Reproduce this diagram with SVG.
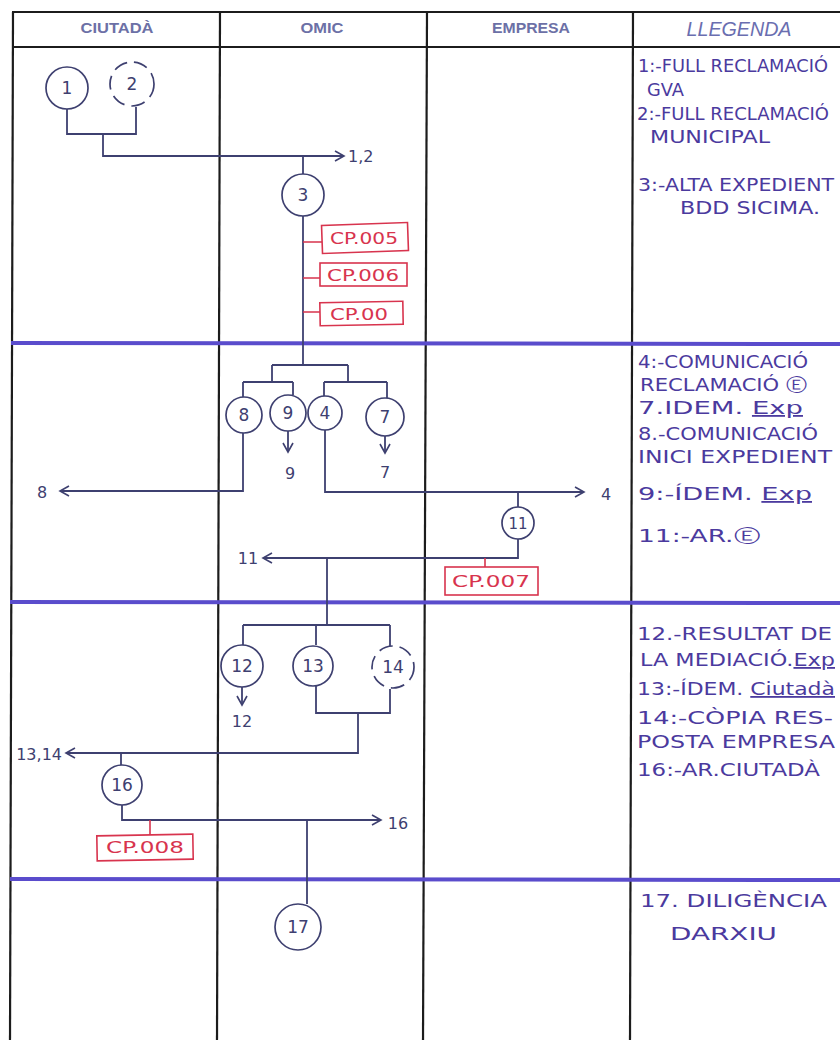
<svg xmlns="http://www.w3.org/2000/svg" width="840" height="1040" viewBox="0 0 840 1040">
<style>
.grid{stroke:#1c1c1c;stroke-width:2.2;fill:none}
.lane{stroke:#5a4ccc;stroke-width:4;fill:none}
.hdr{font-family:"Liberation Sans",Arial,sans-serif;font-weight:bold;font-size:15px;fill:#6c70a6;text-anchor:middle}
.hdri{font-family:"Liberation Sans",Arial,sans-serif;font-style:italic;font-size:20px;fill:#6a6eb0;text-anchor:middle}
.c{stroke:#3e4070;stroke-width:1.8;fill:none}
.node{stroke:#3e4070;stroke-width:1.7;fill:#fff}
.dash{stroke-dasharray:14 7}
.num{font-family:"DejaVu Sans",sans-serif;font-size:17px;fill:#3e4070;text-anchor:middle}
.out{font-family:"DejaVu Sans",sans-serif;font-size:16px;fill:#3e4070}
.cp{stroke:#d8344e;stroke-width:1.6;fill:#fff}
.cpl{stroke:#d8344e;stroke-width:1.6}
.cpt{font-family:"DejaVu Sans",sans-serif;font-size:15px;fill:#d8344e}
.leg{font-family:"DejaVu Sans",sans-serif;font-size:18px;fill:#4b3a9e}
.u{text-decoration:underline}
</style>
<defs>
<marker id="arr" markerUnits="userSpaceOnUse" markerWidth="12" markerHeight="12" refX="10" refY="6" orient="auto">
<path d="M1,1 L10,6 L1,11" fill="none" stroke="#3e4070" stroke-width="1.6"/>
</marker>
</defs>

<g id="table">
<line class="grid" x1="12" y1="12" x2="840" y2="12"/>
<line class="grid" x1="12" y1="47" x2="840" y2="47"/>
<line class="grid" x1="13" y1="12" x2="10" y2="1040"/>
<line class="grid" x1="220" y1="12" x2="217" y2="1040"/>
<line class="grid" x1="427" y1="12" x2="423" y2="1040"/>
<line class="grid" x1="633" y1="12" x2="630" y2="1040"/>
<line class="lane" x1="11" y1="343" x2="840" y2="344"/>
<line class="lane" x1="10" y1="602" x2="840" y2="603"/>
<line class="lane" x1="10" y1="879" x2="840" y2="880"/>
<text class="hdr" x="117" y="33" textLength="73" lengthAdjust="spacingAndGlyphs">CIUTADÀ</text>
<text class="hdr" x="322" y="33" textLength="43" lengthAdjust="spacingAndGlyphs">OMIC</text>
<text class="hdr" x="531" y="33" textLength="78" lengthAdjust="spacingAndGlyphs">EMPRESA</text>
<text class="hdri" x="739" y="36" textLength="105" lengthAdjust="spacingAndGlyphs">LLEGENDA</text>
</g>

<g id="connectors">
<path class="c" d="M67,109 V134 H136 V107"/>
<path class="c" d="M103,134 V156 H344" marker-end="url(#arr)"/>
<text class="out" x="348" y="162">1,2</text>
<path class="c" d="M303,156 V174"/>
<path class="c" d="M303,215 V365"/>
<path class="c" d="M272,365 H348 M272,365 V382 M348,365 V382"/>
<path class="c" d="M243,382 H293 M243,382 V397 M293,382 V395"/>
<path class="c" d="M324,382 H387 M324,382 V396 M387,382 V398"/>
<path class="c" d="M288,431 V452" marker-end="url(#arr)"/>
<text class="out" x="290" y="479" text-anchor="middle">9</text>
<path class="c" d="M385,436 V453" marker-end="url(#arr)"/>
<text class="out" x="385" y="478" text-anchor="middle">7</text>
<path class="c" d="M243,433 V491 H60" marker-end="url(#arr)"/>
<text class="out" x="42" y="498" text-anchor="middle">8</text>
<path class="c" d="M325,430 V492 H584" marker-end="url(#arr)"/>
<text class="out" x="606" y="500" text-anchor="middle">4</text>
<path class="c" d="M518,492 V507"/>
<path class="c" d="M518,539 V558 H263" marker-end="url(#arr)"/>
<text class="out" x="248" y="564" text-anchor="middle">11</text>
<path class="c" d="M327,558 V625"/>
<path class="c" d="M243,625 H390 M243,625 V645 M316,625 V645 M390,625 V646"/>
<path class="c" d="M242,687 V705" marker-end="url(#arr)"/>
<text class="out" x="242" y="727" text-anchor="middle">12</text>
<path class="c" d="M316,686 V713 H390 V689"/>
<path class="c" d="M358,713 V753 H66" marker-end="url(#arr)"/>
<text class="out" x="62" y="760" text-anchor="end">13,14</text>
<path class="c" d="M121,753 V765"/>
<path class="c" d="M122,805 V820 H381" marker-end="url(#arr)"/>
<text class="out" x="398" y="829" text-anchor="middle">16</text>
<path class="c" d="M307,820 V904"/>
<path class="cpl" d="M303,242 H322 M303,278 H320 M303,312 H320 M485,558 V567 M150,820 V835"/>
</g>

<g id="node-1"><circle class="node" cx="67" cy="88" r="21"/><text class="num" x="67" y="94">1</text></g>
<g id="node-2"><circle class="node dash" cx="132" cy="84" r="22"/><text class="num" x="132" y="90">2</text></g>
<g id="node-3"><circle class="node" cx="303" cy="195" r="21"/><text class="num" x="303" y="201">3</text></g>
<g id="cp-005"><rect class="cp" x="322" y="224" width="86" height="28" transform="rotate(-2 365 238)"/><text class="cpt" x="330" y="244" textLength="68" lengthAdjust="spacingAndGlyphs">CP.005</text></g>
<g id="cp-006"><rect class="cp" x="320" y="263" width="87" height="23"/><text class="cpt" x="327" y="281" textLength="72" lengthAdjust="spacingAndGlyphs">CP.006</text></g>
<g id="cp-00"><rect class="cp" x="320" y="302" width="83" height="23" transform="rotate(-1 361 313)"/><text class="cpt" x="330" y="320" textLength="58" lengthAdjust="spacingAndGlyphs">CP.00</text></g>
<g id="node-8"><circle class="node" cx="244" cy="415" r="18"/><text class="num" x="244" y="421">8</text></g>
<g id="node-9"><circle class="node" cx="288" cy="413" r="18"/><text class="num" x="288" y="419">9</text></g>
<g id="node-4"><circle class="node" cx="325" cy="413" r="17"/><text class="num" x="325" y="419">4</text></g>
<g id="node-7"><circle class="node" cx="385" cy="417" r="19"/><text class="num" x="385" y="423">7</text></g>
<g id="node-11"><circle class="node" cx="518" cy="523" r="16"/><text class="num" x="518" y="529" style="font-size:15px">11</text></g>
<g id="cp-007"><rect class="cp" x="445" y="567" width="93" height="28"/><text class="cpt" x="452" y="587" textLength="78" lengthAdjust="spacingAndGlyphs">CP.007</text></g>
<g id="node-12"><circle class="node" cx="242" cy="666" r="21"/><text class="num" x="242" y="672">12</text></g>
<g id="node-13"><circle class="node" cx="313" cy="666" r="20"/><text class="num" x="313" y="672">13</text></g>
<g id="node-14"><circle class="node dash" cx="393" cy="667" r="21"/><text class="num" x="393" y="673">14</text></g>
<g id="node-16"><circle class="node" cx="122" cy="785" r="20"/><text class="num" x="122" y="791">16</text></g>
<g id="cp-008"><rect class="cp" x="97" y="835" width="96" height="25" transform="rotate(-1 145 847)"/><text class="cpt" x="106" y="853" textLength="78" lengthAdjust="spacingAndGlyphs">CP.008</text></g>
<g id="node-17"><circle class="node" cx="298" cy="927" r="23"/><text class="num" x="298" y="933">17</text></g>

<g id="legend">
<text class="leg" x="638" y="72" textLength="190" lengthAdjust="spacingAndGlyphs">1:-FULL RECLAMACIÓ</text>
<text class="leg" x="647" y="96" textLength="37" lengthAdjust="spacingAndGlyphs">GVA</text>
<text class="leg" x="637" y="120" textLength="192" lengthAdjust="spacingAndGlyphs">2:-FULL RECLAMACIÓ</text>
<text class="leg" x="650" y="143" textLength="120" lengthAdjust="spacingAndGlyphs">MUNICIPAL</text>
<text class="leg" x="638" y="191" textLength="196" lengthAdjust="spacingAndGlyphs">3:-ALTA EXPEDIENT</text>
<text class="leg" x="680" y="214" textLength="140" lengthAdjust="spacingAndGlyphs">BDD SICIMA.</text>
<text class="leg" x="638" y="368" textLength="170" lengthAdjust="spacingAndGlyphs">4:-COMUNICACIÓ</text>
<text class="leg" x="640" y="391" textLength="167" lengthAdjust="spacingAndGlyphs">RECLAMACIÓ Ⓔ</text>
<text class="leg" x="638" y="414" textLength="165" lengthAdjust="spacingAndGlyphs">7.IDEM. <tspan class="u">Exp</tspan></text>
<text class="leg" x="638" y="440" textLength="180" lengthAdjust="spacingAndGlyphs">8.-COMUNICACIÓ</text>
<text class="leg" x="638" y="463" textLength="194" lengthAdjust="spacingAndGlyphs">INICI EXPEDIENT</text>
<text class="leg" x="638" y="500" textLength="174" lengthAdjust="spacingAndGlyphs">9:-ÍDEM. <tspan class="u">Exp</tspan></text>
<text class="leg" x="638" y="542" textLength="122" lengthAdjust="spacingAndGlyphs">11:-AR.Ⓔ</text>
<text class="leg" x="637" y="640" textLength="195" lengthAdjust="spacingAndGlyphs">12.-RESULTAT DE</text>
<text class="leg" x="640" y="666" textLength="195" lengthAdjust="spacingAndGlyphs">LA MEDIACIÓ.<tspan class="u">Exp</tspan></text>
<text class="leg" x="637" y="695" textLength="198" lengthAdjust="spacingAndGlyphs">13:-ÍDEM. <tspan class="u">Ciutadà</tspan></text>
<text class="leg" x="637" y="724" textLength="196" lengthAdjust="spacingAndGlyphs">14:-CÒPIA RES-</text>
<text class="leg" x="637" y="748" textLength="198" lengthAdjust="spacingAndGlyphs">POSTA EMPRESA</text>
<text class="leg" x="637" y="776" textLength="183" lengthAdjust="spacingAndGlyphs">16:-AR.CIUTADÀ</text>
<text class="leg" x="640" y="907" textLength="187" lengthAdjust="spacingAndGlyphs">17. DILIGÈNCIA</text>
<text class="leg" x="670" y="940" textLength="107" lengthAdjust="spacingAndGlyphs">DARXIU</text>
</g>
</svg>
